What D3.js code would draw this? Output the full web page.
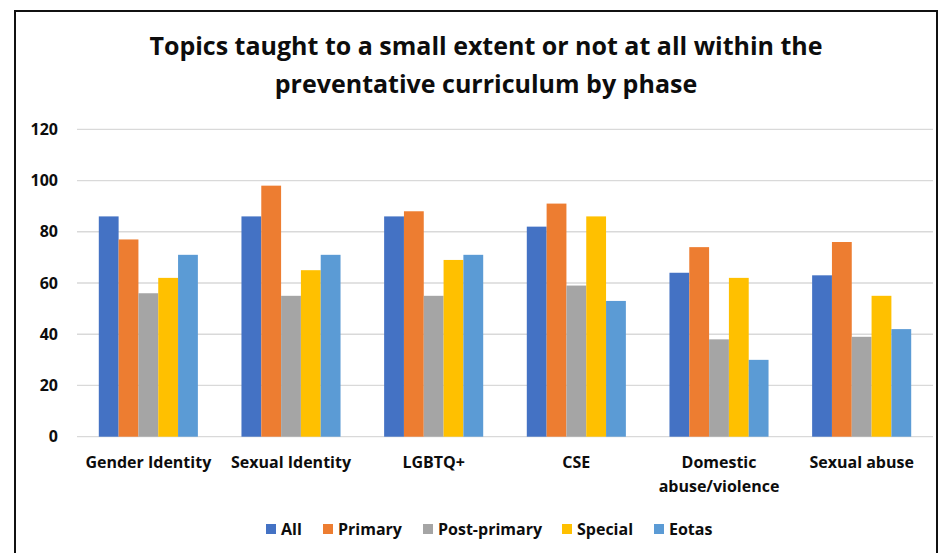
<!DOCTYPE html>
<html>
<head>
<meta charset="utf-8">
<script src="https://cdn.jsdelivr.net/npm/d3@7"></script>
<style>
  html, body { margin: 0; padding: 0; background: #fff; }
  svg { display: block; }
  text { font-family: "Open Sans", Lato, sans-serif; font-weight: 700; fill: #0d0d0d; }
</style>
</head>
<body>
<svg id="chart" width="939" height="553"></svg>
<script>
// Topics, phases and the share (%) taught to a small extent or not at all
const categories = [
  ["Gender Identity"],
  ["Sexual Identity"],
  ["LGBTQ+"],
  ["CSE"],
  ["Domestic", "abuse/violence"],
  ["Sexual abuse"]
];
const seriesNames = ["All", "Primary", "Post-primary", "Special", "Eotas"];
const allValues         = [86, 86, 86, 82, 64, 63];
const primaryValues     = [77, 98, 88, 91, 74, 76];
const postPrimaryValues = [56, 55, 55, 59, 38, 39];
const specialValues     = [62, 65, 69, 86, 62, 55];
const eotasValues       = [71, 71, 71, 53, 30, 42];
const yTicks = [0, 20, 40, 60, 80, 100, 120];
const titleLines = [
  "Topics taught to a small extent or not at all within the",
  "preventative curriculum by phase"
];

const seriesValues = [allValues, primaryValues, postPrimaryValues, specialValues, eotasValues];
const colors = ["#4472C4", "#ED7D31", "#A5A5A5", "#FFC000", "#5B9BD5"];

const svg = d3.select("#chart");

// outer frame
svg.append("rect")
  .attr("x", 15).attr("y", 11)
  .attr("width", 922).attr("height", 560)
  .attr("fill", "none").attr("stroke", "#111").attr("stroke-width", 2);

// title
svg.append("g").selectAll("text")
  .data(titleLines)
  .join("text")
  .attr("x", 486)
  .attr("y", (d, i) => 55 + i * 38)
  .attr("text-anchor", "middle")
  .style("font-size", "25px")
  .text(d => d);

const plotLeft = 77, plotRight = 933, plotTop = 129.3, plotBottom = 436.7;

const x0 = d3.scaleBand()
  .domain(d3.range(categories.length))
  .range([plotLeft, plotRight])
  .paddingInner(0)
  .paddingOuter(0);

const x1 = d3.scaleBand()
  .domain(d3.range(seriesNames.length))
  .range([0, x0.bandwidth()])
  .paddingOuter(1.1);

const y = d3.scaleLinear().domain([0, 120]).range([plotBottom, plotTop]);

// gridlines
svg.append("g").selectAll("line")
  .data(yTicks)
  .join("line")
  .attr("x1", plotLeft).attr("x2", plotRight)
  .attr("y1", d => y(d)).attr("y2", d => y(d))
  .attr("stroke", "#D9D9D9").attr("stroke-width", 1.3);

// y axis labels
const yAxis = d3.axisLeft(y).tickValues(yTicks).tickSize(0).tickPadding(0);
const yg = svg.append("g").attr("transform", "translate(58,0)").call(yAxis);
yg.select(".domain").remove();
yg.selectAll("text")
  .attr("fill", "#0d0d0d")
  .style("font-family", "'Open Sans', sans-serif")
  .style("font-weight", 700)
  .style("font-size", "16px");

// bars
const groups = svg.append("g").selectAll("g")
  .data(categories.map((c, i) => i))
  .join("g")
  .attr("transform", i => `translate(${x0(i)},0)`);

groups.selectAll("rect")
  .data(i => seriesValues.map((vals, s) => ({ s, v: vals[i] })))
  .join("rect")
  .attr("x", d => x1(d.s))
  .attr("width", x1.bandwidth())
  .attr("y", d => y(d.v))
  .attr("height", d => y(0) - y(d.v))
  .attr("fill", d => colors[d.s]);

// category labels
const catG = svg.append("g").selectAll("text")
  .data(categories.map((c, i) => ({ c, i })))
  .join("text")
  .attr("x", d => x0(d.i) + x0.bandwidth() / 2)
  .attr("y", 468)
  .attr("text-anchor", "middle")
  .style("font-size", "16px");
catG.selectAll("tspan")
  .data(d => d.c.map(line => ({ line, x: x0(d.i) + x0.bandwidth() / 2 })))
  .join("tspan")
  .attr("x", d => d.x)
  .attr("dy", (d, k) => k === 0 ? 0 : 24)
  .text(d => d.line);

// legend
const legendX = [266, 323, 423, 562, 654];
const legend = svg.append("g").selectAll("g")
  .data(seriesNames.map((n, s) => ({ n, s })))
  .join("g")
  .attr("transform", d => `translate(${legendX[d.s]},524)`);
legend.append("rect")
  .attr("width", 10).attr("height", 10)
  .attr("fill", d => colors[d.s]);
legend.append("text")
  .attr("x", 15).attr("y", 11)
  .style("font-size", "16px")
  .text(d => d.n);
</script>
</body>
</html>
